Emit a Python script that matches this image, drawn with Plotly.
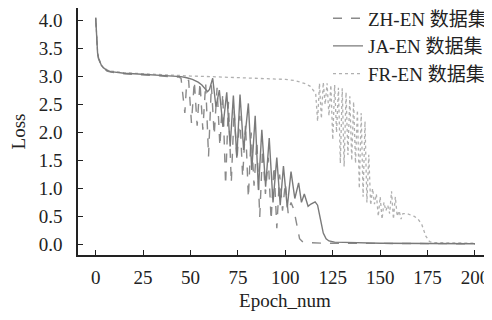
import plotly.graph_objects as go

# ---- data ----
common_epochs = [0, 0.5, 1, 1.5, 2, 3, 4, 5, 6, 8, 10, 15, 20, 25, 30, 35, 40, 44]
common_loss = [4.05, 3.6, 3.42, 3.33, 3.27, 3.2, 3.16, 3.13, 3.11, 3.09, 3.08, 3.06, 3.05, 3.04, 3.03, 3.02, 3.01, 3.0]

zh_epochs = [45, 46, 47, 48, 49, 50.5, 52, 53.5, 55, 56.5, 58, 59.5, 61, 62.5, 64, 65.5, 67, 68.5,
             70, 71.5, 73, 74.5, 76, 77.5, 79, 80.5, 82, 83.5, 85, 86.5, 88, 89.5, 91, 92.5, 94,
             95.5, 97, 98.5, 100, 101.5, 103, 104.5, 106, 107.5, 109, 112, 120, 140, 200]
zh_loss = [2.97, 2.6, 2.35, 2.9, 2.94, 2.17, 2.92, 2.12, 2.9, 2.05, 2.88, 1.57, 2.85, 1.95, 2.8, 1.75, 2.7, 1.06,
           2.55, 1.1, 2.4, 1.5, 2.3, 1.2, 2.15, 0.83, 2.0, 1.05, 1.85, 0.49, 1.7, 0.9, 1.55, 0.43, 1.4,
           0.29, 1.25, 0.6, 1.1, 0.55, 0.75, 0.62, 0.35, 0.1, 0.05, 0.03, 0.02, 0.015, 0.01]

ja_epochs = [45, 48, 51, 54, 56, 57.5, 59, 60, 61.7, 63.4, 65.2, 67.1, 69.1, 70.9, 72.6, 74.4, 76.1, 78,
             80.5, 82.3, 84.1, 85.8, 87.6, 89.6, 91.5, 93.5, 95.5, 97.3, 99, 101, 103, 105, 107, 108.5,
             110, 112, 113.5, 115.7, 117, 118.5, 120, 121.5, 123, 126, 135, 150, 200]
ja_loss = [3.0, 2.98, 2.95, 2.9, 2.85, 2.79, 2.73, 2.77, 2.97, 2.46, 2.76, 2.1, 2.72, 1.75, 2.66, 1.55, 2.68, 1.69,
           2.52, 1.33, 2.3, 0.97, 2.05, 1.03, 1.9, 0.75, 1.55, 0.7, 1.4, 0.66, 1.3, 0.82, 1.1, 0.75,
           0.9, 0.68, 0.72, 0.76, 0.7, 0.45, 0.2, 0.1, 0.06, 0.04, 0.03, 0.02, 0.01]

fr_epochs = [50, 60, 70, 80, 90, 100, 105, 110, 113, 115, 116, 117, 118, 119, 120, 121, 122, 123, 124, 125,
             126, 127, 128, 129, 130, 131, 132, 133, 134, 135, 136, 137, 138, 139, 140, 141, 142, 143, 144,
             145, 146, 147, 148, 149, 150, 151, 152, 153, 154, 155, 156, 157, 158, 159, 160, 161, 162, 164,
             166, 168, 170, 172, 174, 176, 178, 200]
fr_loss = [3.01, 3.0, 2.99, 2.98, 2.97, 2.95, 2.93, 2.88, 2.83, 2.75, 2.7, 2.2, 2.88, 2.25, 2.9, 2.5, 2.88, 2.3, 2.85, 1.87,
           2.85, 2.0, 2.8, 1.45, 2.79, 1.39, 2.72, 1.6, 2.65, 1.5, 2.55, 1.45, 2.4, 1.0, 2.35, 0.85, 2.2, 0.75, 1.6,
           0.7, 1.0, 0.72, 0.9, 0.5, 0.85, 0.45, 0.75, 0.6, 0.7, 0.55, 0.95, 0.45, 0.85, 0.5, 0.6, 0.45, 0.55, 0.55,
           0.52, 0.5, 0.45, 0.35, 0.15, 0.05, 0.03, 0.02]

series_names = ["ZH-EN 数据集", "JA-EN 数据集", "FR-EN 数据集"]
x_ticks = [0, 25, 50, 75, 100, 125, 150, 175, 200]
y_ticks = [0.0, 0.5, 1.0, 1.5, 2.0, 2.5, 3.0, 3.5, 4.0]

FONT = "'Liberation Serif', 'Times New Roman', 'Noto Sans CJK SC', serif"
FS = 19

fig = go.Figure()
fig.add_trace(go.Scatter(
    x=common_epochs + fr_epochs, y=[v + 0.01 for v in common_loss] + fr_loss,
    mode="lines", name=series_names[2], legendrank=3,
    line=dict(color="#b0b0b0", width=1.3, dash="dot")))
fig.add_trace(go.Scatter(
    x=common_epochs + zh_epochs, y=[v - 0.01 for v in common_loss] + zh_loss,
    mode="lines", name=series_names[0], legendrank=1,
    line=dict(color="#8a8a8a", width=1.4, dash="dash")))
fig.add_trace(go.Scatter(
    x=common_epochs + ja_epochs, y=common_loss + ja_loss,
    mode="lines", name=series_names[1], legendrank=2,
    line=dict(color="#7a7a7a", width=1.4)))

# page body has an 8px margin, so the figure is 484x304 placed at (8, 8)
fig.update_layout(
    width=484, height=304,
    margin=dict(l=70, r=0, t=0, b=57, autoexpand=False),
    paper_bgcolor="white", plot_bgcolor="white",
    font=dict(family=FONT, size=FS, color="#222"),
    showlegend=True,
    legend=dict(x=1, y=1.035, xanchor="right", yanchor="top",
                bgcolor="rgba(0,0,0,0)", font=dict(size=FS, family=FONT),
                traceorder="normal", itemwidth=30),
    xaxis=dict(range=[-9.33, 208.97], tickvals=x_ticks, ticktext=[str(t) for t in x_ticks],
               ticks="inside", ticklen=5, tickcolor="#222", tickwidth=1,
               showline=True, linecolor="#222", linewidth=1.5, mirror=True,
               showgrid=False, zeroline=False, ticklabelstandoff=4, automargin=False,
               title=dict(text="Epoch_num", standoff=7, font=dict(size=FS)),
               tickfont=dict(size=FS)),
    yaxis=dict(range=[-0.191, 4.227], tickvals=y_ticks, ticktext=[f"{t:.1f}" for t in y_ticks],
               ticks="inside", ticklen=5, tickcolor="#222", tickwidth=1,
               showline=True, linecolor="#222", linewidth=1.5, mirror=False,
               showgrid=False, zeroline=False, ticklabelstandoff=10, automargin=False,
               title=dict(text="Loss", standoff=11, font=dict(size=FS)),
               tickfont=dict(size=FS)),
)

fig.write_html("out.html")
